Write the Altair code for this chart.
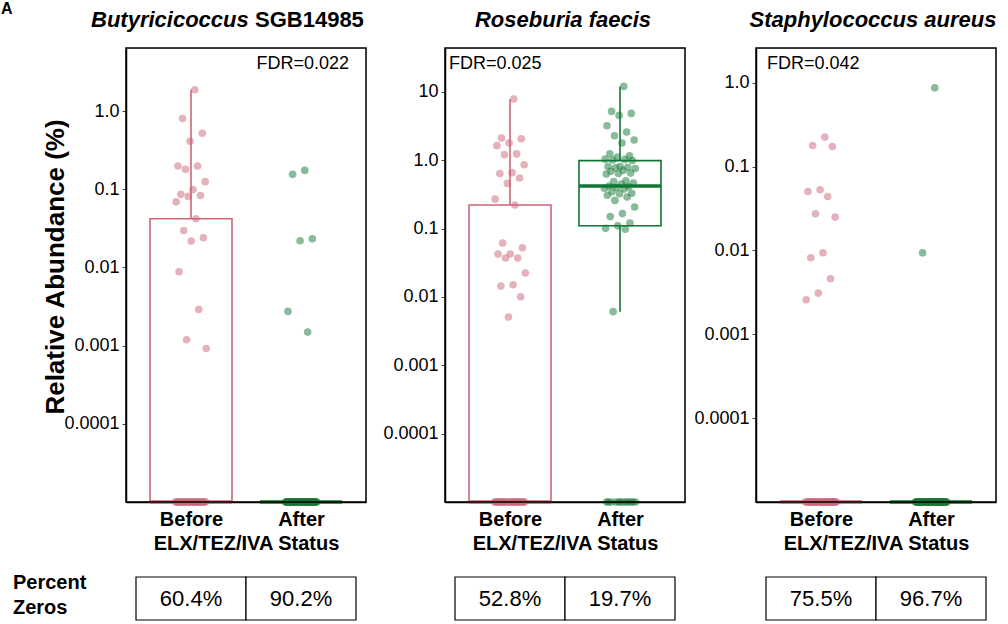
import altair as alt
import pandas as pd
import numpy as np

groups = ["Before", "After"]
colors = ["#CC6677", "#117733"]
PSEUDO = 1e-5

# ---- data (relative abundance, %) ----
p1_before_nonzero = [1.87, 0.80, 0.52, 0.41, 0.198, 0.198, 0.18, 0.125, 0.099, 0.086, 0.083,
                     0.081, 0.069, 0.042, 0.0297, 0.024, 0.0218, 0.0088, 0.0029, 0.00119, 0.00092]
p1_before_zeros = 32
p1_after_nonzero = [0.174, 0.155, 0.0233, 0.0219, 0.00274, 0.00149]
p1_after_zeros = 55

p2_before_nonzero = [7.9, 2.12, 2.07, 1.79, 1.64, 1.24, 1.21, 0.86, 0.66, 0.64, 0.55, 0.459, 0.27,
                     0.222, 0.0616, 0.0526, 0.0425, 0.0425, 0.0372, 0.0372, 0.0224, 0.0151,
                     0.0145, 0.0101, 0.0051]
p2_before_zeros = 28
p2_after_nonzero = [12.06, 5.2, 4.86, 4.54, 3.21, 2.59, 2.29, 1.98, 1.79, 1.25, 1.16, 1.12, 1.04,
                    1.03, 1.01, 0.99, 0.81, 0.81, 0.79, 0.78, 0.76, 0.71, 0.69, 0.65, 0.64, 0.63,
                    0.50, 0.49, 0.465, 0.45, 0.42, 0.41, 0.40, 0.39, 0.38, 0.347, 0.33, 0.325,
                    0.307, 0.29, 0.259, 0.207, 0.166, 0.15, 0.121, 0.11, 0.101, 0.098, 0.0061]
p2_after_zeros = 12

p3_before_nonzero = [0.225, 0.179, 0.174, 0.053, 0.0505, 0.044, 0.0274, 0.025, 0.0094, 0.0082,
                     0.0046, 0.0031, 0.00258]
p3_before_zeros = 40
p3_after_nonzero = [0.87, 0.0094]
p3_after_zeros = 59

p1_zero_pct = ["60.4%", "90.2%"]
p2_zero_pct = ["52.8%", "19.7%"]
p3_zero_pct = ["75.5%", "96.7%"]

fdr_labels = ["FDR=0.022", "FDR=0.025", "FDR=0.042"]

ticks_small = [1e-4, 1e-3, 1e-2, 0.1, 1.0]
ticks_small_labels = ["0.0001", "0.001", "0.01", "0.1", "1.0"]
ticks_big = [1e-4, 1e-3, 1e-2, 0.1, 1.0, 10.0]
ticks_big_labels = ["0.0001", "0.001", "0.01", "0.1", "1.0", "10"]

FONT = "Liberation Sans"
X_DOMAIN = [-0.5909, 1.5909]   # two category slots across the panel
BOX_HALF = 0.3727
CELL_HALF = 0.5
JITTER = 0.29
W, H = 240, 454


def box_stats(vals):
    v = np.log10(np.maximum(np.array(vals, dtype=float), PSEUDO))
    q1, med, q3 = np.percentile(v, [25, 50, 75])
    iqr = q3 - q1
    lo = v[v >= q1 - 1.5 * iqr].min()
    hi = v[v <= q3 + 1.5 * iqr].max()
    return [max(10 ** x, PSEUDO) for x in (q1, med, q3, lo, hi)]


def label_expr(vals, labels):
    parts = []
    for v, l in sorted(zip(vals, labels), reverse=True):
        parts.append(f"datum.value > {v * 0.5} ? '{l}'")
    return " : ".join(parts) + " : ''"


def text_layer(txt, x, y, size, weight="normal", style="normal", align="left",
               baseline="alphabetic", angle=0):
    return alt.Chart(pd.DataFrame({"t": [txt]})).mark_text(
        align=align, baseline=baseline, fontSize=size, fontWeight=weight,
        fontStyle=style, color="black", angle=angle, font=FONT
    ).encode(x=alt.value(x), y=alt.value(y), text="t:N")


def make_panel(before, after, ymax, tvals, tlabels, pz, fdr, fdr_x, fdr_align,
               titles, min_extent, extras):
    pts = pd.DataFrame({
        "group": ["Before"] * len(before) + ["After"] * len(after),
        "value": list(before) + list(after),
    })
    pts["idx"] = pts["group"].map({g: i for i, g in enumerate(groups)})
    rows = []
    for i, (g, vals) in enumerate(zip(groups, [before, after])):
        q1, med, q3, lo, hi = box_stats(vals)
        rows.append(dict(group=g, idx=i, q1=q1, med=med, q3=q3, lo=lo, hi=hi))
    st = pd.DataFrame(rows)
    table = pd.DataFrame({"group": groups, "idx": [0, 1], "label": pz})

    xscale = alt.Scale(domain=X_DOMAIN, nice=False, zero=False)
    xaxis = alt.Axis(title="ELX/TEZ/IVA Status", values=[0, 1],
                     labelExpr=f"datum.value < 0.5 ? '{groups[0]}' : '{groups[1]}'",
                     labelAngle=0, labelFontSize=20, labelFontWeight="bold",
                     labelColor="black", labelPadding=7, ticks=False, grid=False,
                     domainColor="black", domainWidth=1.5, titleFontSize=20,
                     titleFontWeight="bold", titleColor="black", titlePadding=4,
                     labelFont=FONT, titleFont=FONT)
    yscale = alt.Scale(type="log", domain=[PSEUDO, ymax], nice=False, clamp=True)
    yaxis_kw = dict(values=tvals, labelExpr=label_expr(tvals, tlabels), title=None,
                    labelFontSize=18, labelColor="black", tickSize=4, tickColor="#444",
                    domainColor="black", domainWidth=1.5, grid=False, labelPadding=3,
                    labelFont=FONT)
    if min_extent:
        yaxis_kw["minExtent"] = min_extent
    yaxis = alt.Axis(**yaxis_kw)
    color = alt.Color("group:N", scale=alt.Scale(domain=groups, range=colors), legend=None)

    def xq(field):
        return alt.X(f"{field}:Q", scale=xscale, axis=xaxis)

    boxes = alt.Chart(st).transform_calculate(
        xl=f"datum.idx - {BOX_HALF}", xr=f"datum.idx + {BOX_HALF}")
    box = boxes.mark_rect(filled=False, strokeWidth=1.6).encode(
        x=xq("xl"), x2="xr:Q", y=alt.Y("q1:Q", scale=yscale, axis=yaxis), y2="q3:Q",
        color=color)
    whisk_hi = boxes.mark_rule(strokeWidth=1.6).encode(
        x=xq("idx"), y=alt.Y("q3:Q", scale=yscale, axis=yaxis), y2="hi:Q", color=color)
    whisk_lo = boxes.mark_rule(strokeWidth=1.6).encode(
        x=xq("idx"), y=alt.Y("lo:Q", scale=yscale, axis=yaxis), y2="q1:Q", color=color)
    median = boxes.mark_rule(strokeWidth=3.5).encode(
        x=xq("xl"), x2="xr:Q", y=alt.Y("med:Q", scale=yscale, axis=yaxis), color=color)
    points = alt.Chart(pts).transform_window(
        rn="row_number()", groupby=["group"]
    ).transform_calculate(
        yv=f"max(datum.value, {PSEUDO})",
        xj=f"datum.idx + {JITTER} * (((datum.rn * 0.6180339887) % 1) - 0.5)",
    ).mark_circle(size=58, opacity=0.5).encode(
        x=xq("xj"), y=alt.Y("yv:Q", scale=yscale, axis=yaxis), color=color)
    cells = alt.Chart(table).transform_calculate(
        cl=f"datum.idx - {CELL_HALF}", cr=f"datum.idx + {CELL_HALF}"
    ).mark_rect(fill="white", stroke="black", strokeWidth=1.2).encode(
        x=xq("cl"), x2="cr:Q", y=alt.value(529), y2=alt.value(572))
    cell_text = alt.Chart(table).mark_text(fontSize=22, color="black", baseline="middle",
                                           font=FONT).encode(
        x=xq("idx"), y=alt.value(551), text="label:N")
    frame = alt.Chart(pd.DataFrame({"f": [0]})).mark_rect(
        fill="transparent", stroke="black", strokeWidth=1.5
    ).encode(x=alt.value(0), x2=alt.value(W), y=alt.value(0), y2=alt.value(H))

    layers = [box, whisk_hi, whisk_lo, median, points, cells, cell_text, frame,
              text_layer(fdr, fdr_x, 21, 18, align=fdr_align)]
    for (txt, x, style, align) in titles:
        layers.append(text_layer(txt, x, -21, 22, weight="bold", style=style, align=align))
    layers += extras
    return alt.layer(*layers).properties(width=W, height=H)


p1 = make_panel(
    p1_before_nonzero + [0.0] * p1_before_zeros, p1_after_nonzero + [0.0] * p1_after_zeros,
    6.4, ticks_small, ticks_small_labels, p1_zero_pct, fdr_labels[0], 223, "right",
    [("Butyricicoccus", -35, "italic", "left"), ("SGB14985", 129, "normal", "left")],
    None,
    [text_layer("A", -125, -47, 16, weight="bold", baseline="top"),
     text_layer("Relative Abundance (%)", -70, 219, 26, weight="bold", align="center",
                baseline="middle", angle=270),
     text_layer("Percent", -113, 535, 20, weight="bold", baseline="middle"),
     text_layer("Zeros", -113, 560, 20, weight="bold", baseline="middle")],
)
p2 = make_panel(
    p2_before_nonzero + [0.0] * p2_before_zeros, p2_after_nonzero + [0.0] * p2_after_zeros,
    44.0, ticks_big, ticks_big_labels, p2_zero_pct, fdr_labels[1], 4, "left",
    [("Roseburia faecis", 118, "italic", "center")],
    70,
    [text_layer(" ", 100, -47, 16, baseline="top")],
)
p3 = make_panel(
    p3_before_nonzero + [0.0] * p3_before_zeros, p3_after_nonzero + [0.0] * p3_after_zeros,
    2.6, ticks_small, ticks_small_labels, p3_zero_pct, fdr_labels[2], 11, "left",
    [("Staphylococcus aureus", 117, "italic", "center")],
    59,
    [text_layer(" ", 100, -47, 16, baseline="top")],
)

chart = alt.hconcat(p1, p2, p3, spacing=6).properties(
    padding={"left": 0, "top": 0, "right": 0, "bottom": 0}
).configure_view(stroke="black", strokeWidth=1.5).configure(font=FONT, background="white")

chart.save("out.html", embed_options={"renderer": "svg", "actions": False})
